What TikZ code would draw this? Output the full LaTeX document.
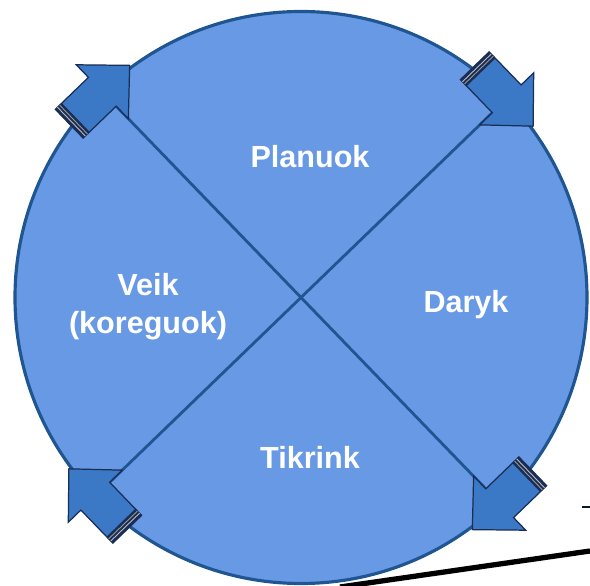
\documentclass[tikz,border=0pt]{standalone}
\usepackage{fontspec}
\setmainfont{Liberation Sans}
\definecolor{cyclefill}{HTML}{6899E5}
\definecolor{cycleedge}{HTML}{1F5590}
\definecolor{arrowblue}{HTML}{3B78C6}
\definecolor{arrowedge}{HTML}{1A2D55}

\begin{document}
\begin{tikzpicture}[
  phase/.style={text=white, align=center, font=\fontsize{17.4}{21.5}\selectfont\bfseries},
  divider/.style={draw=cycleedge, line width=1.6pt},
  arrowbox/.style={fill=arrowblue, draw=arrowedge, line width=0.7pt, line join=miter},
]
  \useasboundingbox (-6.02,-5.77) rectangle (5.78,5.95);

  % --- leftover edges at the lower right ---
  \draw[line width=3pt, black] (0.78,-5.79) -- (5.78,-5.07);
  \draw[line width=1.2pt, black!70!cycleedge] (5.62,-4.19) -- (5.78,-4.19);

  % --- the cycle disc ---
  \fill[cyclefill, draw=cycleedge, line width=1.8pt] (0,0) circle (5.72);

  \coordinate (nw) at (134:5.72);
  \coordinate (ne) at (44:5.72);
  \coordinate (se) at (-46:5.72);
  \coordinate (sw) at (-136:5.72);
  \draw[divider] (nw) -- (se);
  \draw[divider] (ne) -- (sw);

  % --- block arrows, clockwise ---
  \foreach \ang in {134, 44, -46, -136} {
    \begin{scope}[shift={(\ang:5.72)}, rotate=\ang-90]
      \draw[arrowbox] (0,0.4) -- (0,0.75) -- (0.76,0) -- (0,-0.75) -- (0,-0.4)
        -- (-0.92,-0.4) -- (-0.92,0.4) -- cycle;
      \fill[arrowedge] (-0.92,-0.4) rectangle (-0.74,0.4);
      \draw[black!25, line width=0.5pt] (-0.86,-0.4) -- (-0.86,0.4);
      \draw[black!40, line width=0.5pt] (-0.80,-0.4) -- (-0.80,0.4);
    \end{scope}
  }

  % --- phase labels ---
  \node[phase] (plan) at (0.18, 2.81) {Planuok};
  \node[phase] (do) at (3.30, -0.15) {Daryk};
  \node[phase] (check) at (0.18, -3.19) {Tikrink};
  \node[phase] (act) at (-3.06, -0.19) {Veik\\(koreguok)};
\end{tikzpicture}
\end{document}
